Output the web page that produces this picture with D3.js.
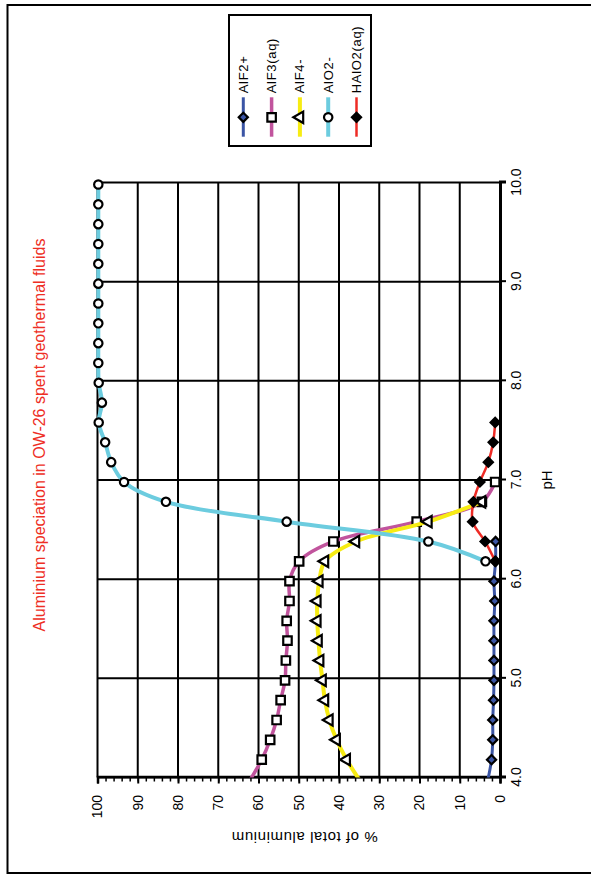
<!DOCTYPE html>
<html>
<head>
<meta charset="utf-8">
<script src="https://cdn.jsdelivr.net/npm/d3@7"></script>
<style>
  html, body { margin: 0; padding: 0; background: #fff; }
  svg { display: block; }
  text { font-family: "Liberation Sans", Arial, sans-serif; }
</style>
</head>
<body>
<svg id="chart" width="591" height="875"></svg>
<script>
// ---------- data ----------
const pH = [3.98, 4.18, 4.38, 4.58, 4.78, 4.98, 5.18, 5.38, 5.58, 5.78, 5.98,
            6.18, 6.38, 6.58, 6.78, 6.98, 7.18, 7.38, 7.58, 7.78, 7.98,
            8.18, 8.38, 8.58, 8.78, 8.98, 9.18, 9.38, 9.58, 9.78, 9.98];

const AlF2 = [3.0, 2.1, 1.8, 1.8, 1.6, 1.5, 1.5, 1.5, 1.5, 1.3, 1.5,
              1.1, 1.1, null, null, null, null, null, null, null, null,
              null, null, null, null, null, null, null, null, null, null];
const AlF3 = [62.0, 59.2, 57.1, 55.5, 54.5, 53.4, 53.2, 52.8, 53.0, 52.3, 52.3,
              49.9, 41.4, 20.7, 4.5, 1.2, null, null, null, null, null,
              null, null, null, null, null, null, null, null, null, null];
const AlF4 = [35.0, 38.1, 40.6, 42.4, 43.5, 44.1, 44.7, 45.1, 45.4, 45.4, 44.9,
              43.5, 35.8, 17.8, 4.5, null, null, null, null, null, null,
              null, null, null, null, null, null, null, null, null, null];
const AlO2 = [null, null, null, null, null, null, null, null, null, null, null,
              3.6, 17.8, 53.0, 83.0, 93.4, 96.6, 98.1, 99.7, 98.9, 99.7,
              99.8, 99.8, 99.8, 99.8, 99.8, 99.8, 99.8, 99.8, 99.8, 99.8];
const HAlO2 = [null, null, null, null, null, null, null, null, null, null, null,
               1.2, 3.7, 6.8, 6.6, 5.0, 2.9, 1.7, 1.2, null, null,
               null, null, null, null, null, null, null, null, null, null];

const seriesNames = ["AlF2+", "AlF3(aq)", "AlF4-", "AlO2-", "HAlO2(aq)"];
const seriesValues = [AlF2, AlF3, AlF4, AlO2, HAlO2];
const seriesColors = ["#3B55A5", "#C1549D", "#F7EC13", "#6CCCDF", "#EE2B25"];
const seriesWidths = [3, 3.5, 4, 4, 2.5];
const seriesSymbols = ["diamond", "square", "triangle", "circle", "diamond"];
const seriesFills = ["#3B55A5", "#ffffff", "#ffffff", "#ffffff", "#000000"];

const phTicks = [4, 5, 6, 7, 8, 9, 10];
const pctTicks = [0, 10, 20, 30, 40, 50, 60, 70, 80, 90, 100];

const titleText = "Aluminium speciation in OW-26 spent geothermal fluids";
const xTitle = "pH";
const yTitle = "% of total aluminium";

// ---------- drawing ----------
const svg = d3.select("#chart");
const FONT = '"Liberation Sans", Arial, sans-serif';

// outer chart border (screen coordinates)
svg.append("rect")
  .attr("x", 7.5).attr("y", 5).attr("width", 590).attr("height", 868)
  .attr("fill", "none").attr("stroke", "#000").attr("stroke-width", 2);

// whole chart is drawn unrotated and turned 90° counter-clockwise
const g = svg.append("g").attr("transform", "translate(0,875) rotate(-90)");

const x = d3.scaleLinear().domain([4, 10]).range([97.5, 692.5]);
const y = d3.scaleLinear().domain([0, 100]).range([500, 97.5]);

// gridlines
g.append("g").selectAll("line.h").data(pctTicks.filter(d => d > 0)).join("line")
  .attr("x1", x(4)).attr("x2", x(10))
  .attr("y1", d => y(d)).attr("y2", d => y(d))
  .attr("stroke", "#000").attr("stroke-width", 2);
g.append("g").selectAll("line.v").data(phTicks).join("line")
  .attr("x1", d => x(d)).attr("x2", d => x(d))
  .attr("y1", y(0)).attr("y2", y(100))
  .attr("stroke", "#000").attr("stroke-width", 2);

// % axis: minor ticks
const yMinor = g.append("g").attr("transform", `translate(${x(4)},0)`)
  .call(d3.axisLeft(y).tickValues(d3.range(0, 101, 2)).tickSize(4).tickFormat(""));
yMinor.select(".domain").remove();
yMinor.selectAll(".tick line").attr("stroke", "#000").attr("stroke-width", 1.5);

// % axis: major ticks + labels
const yAxis = g.append("g").attr("transform", `translate(${x(4)},0)`)
  .call(d3.axisLeft(y).tickValues(pctTicks).tickSize(6).tickPadding(11.5));
yAxis.select(".domain").attr("stroke", "#000").attr("stroke-width", 2.5);
yAxis.selectAll(".tick line").attr("stroke", "#000").attr("stroke-width", 2);
yAxis.selectAll(".tick text").attr("font-size", 14).attr("font-family", FONT).attr("fill", "#000");

// pH axis
const xAxis = g.append("g").attr("transform", `translate(0,${y(0)})`)
  .call(d3.axisBottom(x).tickValues(phTicks).tickFormat(d3.format(".1f")).tickSize(6).tickPadding(5));
xAxis.select(".domain").attr("stroke", "#000").attr("stroke-width", 3);
xAxis.selectAll(".tick line").attr("stroke", "#000").attr("stroke-width", 2);
xAxis.selectAll(".tick text").attr("font-size", 14).attr("font-family", FONT).attr("fill", "#000");

// clip for series lines
const defs = svg.append("defs");
defs.append("clipPath").attr("id", "plotclip")
  .append("rect").attr("x", x(4)).attr("y", 60).attr("width", x(10) - x(4) + 20).attr("height", 470);

function symbolPath(kind) {
  if (kind === "circle") return d3.symbol(d3.symbolCircle, 55)();
  if (kind === "square") return d3.symbol(d3.symbolSquare, 72)();
  if (kind === "triangle") return d3.symbol(d3.symbolTriangle, 56)();
  return d3.symbol(d3.symbolSquare, 42)(); // diamond = rotated square
}
function symbolRot(kind) { return kind === "diamond" ? 45 : 0; }

const line = d3.line()
  .defined(d => d.v !== null)
  .x(d => x(d.p)).y(d => y(d.v))
  .curve(d3.curveCatmullRom.alpha(0.5));

seriesValues.forEach((vals, i) => {
  const pts = pH.map((p, k) => ({ p, v: vals[k] }));
  const valid = pts.filter(d => d.v !== null);
  g.append("path")
    .datum(valid)
    .attr("clip-path", "url(#plotclip)")
    .attr("d", line)
    .attr("fill", "none")
    .attr("stroke", seriesColors[i])
    .attr("stroke-width", seriesWidths[i])
    .attr("stroke-linejoin", "round");
  g.append("g").selectAll("path").data(valid.filter(d => d.p >= 4 && d.p <= 10)).join("path")
    .attr("d", symbolPath(seriesSymbols[i]))
    .attr("transform", d => `translate(${x(d.p)},${y(d.v)}) rotate(${symbolRot(seriesSymbols[i])})`)
    .attr("fill", seriesFills[i])
    .attr("stroke", "#000")
    .attr("stroke-width", 2.2);
});

// axis titles
g.append("text")
  .attr("x", (x(4) + x(10)) / 2).attr("y", 552)
  .attr("text-anchor", "middle").attr("font-size", 15).attr("fill", "#000")
  .text(xTitle);

g.append("text")
  .attr("transform", `translate(43.5,${(y(0) + y(100)) / 2 + 6}) rotate(-90)`)
  .attr("text-anchor", "middle").attr("font-size", 15).attr("fill", "#000")
  .attr("textLength", 146).attr("lengthAdjust", "spacing")
  .text(yTitle);

// chart title
g.append("text")
  .attr("x", 440).attr("y", 44.5)
  .attr("text-anchor", "middle").attr("font-size", 16).attr("fill", "#EE2E24")
  .text(titleText);

// legend
const lg = g.append("g");
lg.append("rect")
  .attr("x", 729).attr("y", 229).attr("width", 131).attr("height", 142)
  .attr("fill", "#fff").attr("stroke", "#000").attr("stroke-width", 2);
seriesNames.forEach((name, i) => {
  const cy = 243.3 + 28.3 * i;
  lg.append("line")
    .attr("x1", 738.3).attr("x2", 777.7).attr("y1", cy).attr("y2", cy)
    .attr("stroke", seriesColors[i]).attr("stroke-width", seriesWidths[i]);
  lg.append("path")
    .attr("d", symbolPath(seriesSymbols[i]))
    .attr("transform", `translate(757.7,${cy}) rotate(${symbolRot(seriesSymbols[i])})`)
    .attr("fill", seriesFills[i]).attr("stroke", "#000").attr("stroke-width", 2.2);
  lg.append("text")
    .attr("x", 781.7).attr("y", cy).attr("dy", "0.35em")
    .attr("font-size", 13).attr("letter-spacing", 0.7).attr("fill", "#000")
    .text(name);
});
</script>
</body>
</html>
